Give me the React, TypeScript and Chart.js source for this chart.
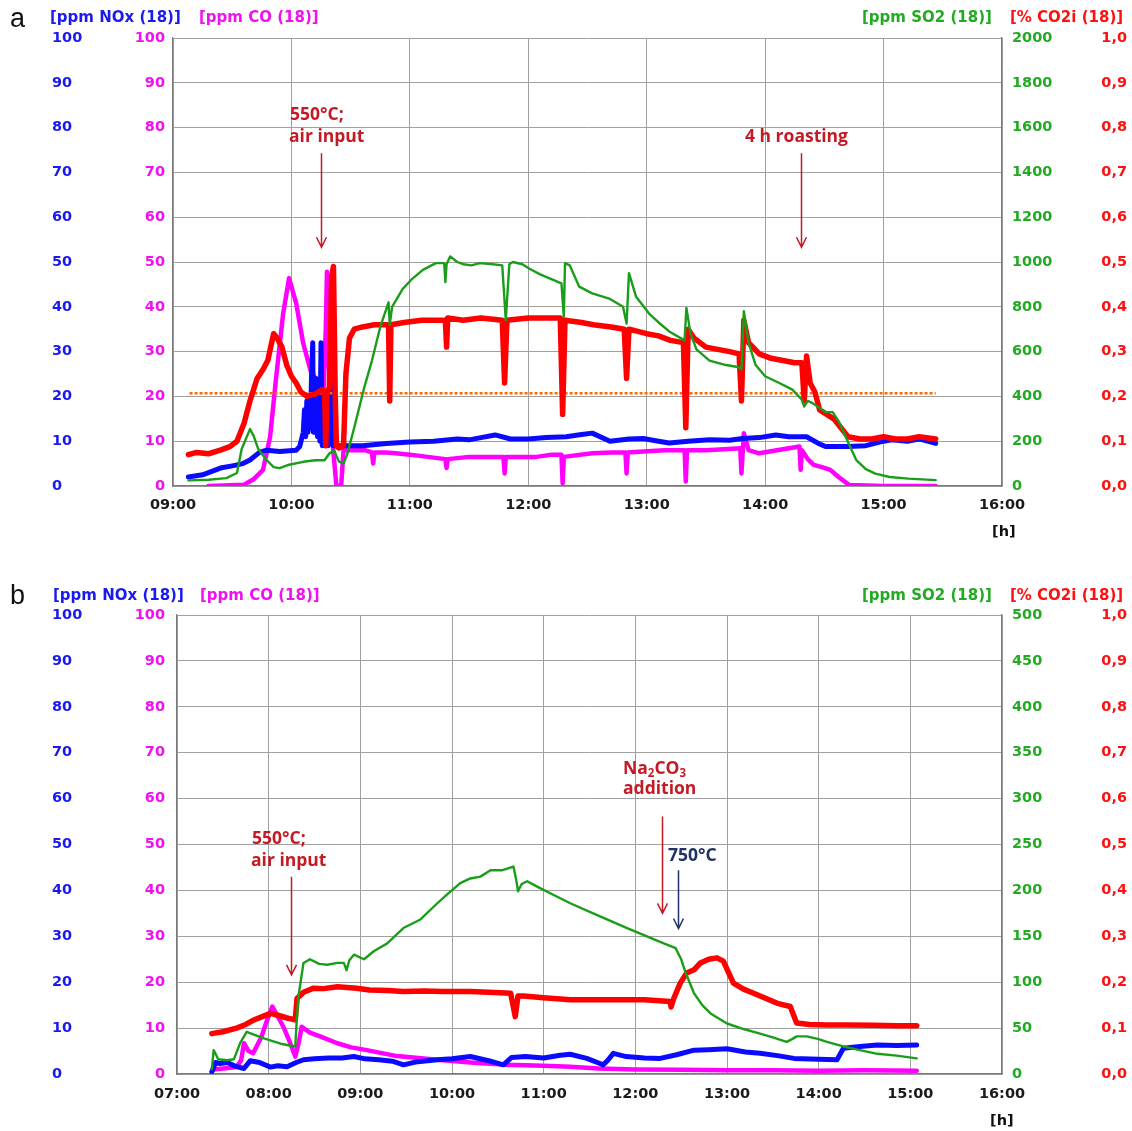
import React, { useEffect, useRef } from 'react';
import { Chart, registerables } from 'chart.js';
Chart.register(...registerables);

type P = [number, number];

// ---------- Panel a (time in decimal hours) ----------
const aNOx: P[] = [
  [9.13, 2], [9.25, 2.5], [9.4, 4], [9.5, 4.5], [9.59, 5], [9.65, 5.8], [9.73, 7.5], [9.79, 8], [9.9, 7.7], [10.04, 8],
  [10.07, 8.8], [10.1, 12], [10.11, 17], [10.12, 11], [10.13, 19], [10.14, 12], [10.15, 20], [10.16, 13], [10.17, 25], [10.18, 32],
  [10.185, 12], [10.19, 22], [10.2, 13], [10.21, 24], [10.22, 11], [10.23, 20], [10.24, 10], [10.25, 32], [10.26, 9],
  [10.27, 15], [10.28, 9], [10.3, 19], [10.31, 9], [10.33, 25], [10.35, 9], [10.45, 9], [10.6, 9], [10.8, 9.5],
  [11.0, 9.8], [11.2, 10], [11.4, 10.5], [11.5, 10.3], [11.6, 10.8], [11.72, 11.4], [11.85, 10.5], [12.0, 10.5],
  [12.15, 10.8], [12.32, 11], [12.45, 11.5], [12.54, 11.8], [12.69, 10], [12.85, 10.5], [12.97, 10.6], [13.1, 10],
  [13.19, 9.6], [13.35, 10], [13.53, 10.3], [13.7, 10.2], [13.81, 10.6], [13.95, 10.8], [14.09, 11.4], [14.2, 11],
  [14.35, 11], [14.45, 9.5], [14.51, 8.8], [14.7, 8.8], [14.85, 9], [15.0, 10], [15.07, 10.3], [15.2, 10],
  [15.3, 10.5], [15.44, 9.5],
];
const aCO: P[] = [
  [9.3, 0], [9.6, 0.3], [9.68, 1.5], [9.76, 3.6], [9.82, 11], [9.87, 24], [9.93, 38.5], [9.98, 46.4], [10.04, 40.8],
  [10.1, 31.8], [10.16, 25.9], [10.21, 23.7], [10.27, 20.7], [10.29, 35], [10.3, 47.8], [10.31, 30], [10.33, 20],
  [10.35, 8.8], [10.38, 0], [10.42, 0], [10.44, 8], [10.5, 8], [10.62, 8], [10.68, 7.5], [10.69, 5], [10.7, 7.5],
  [10.8, 7.5], [10.88, 7.3], [11.0, 7], [11.15, 6.5], [11.3, 6], [11.31, 4], [11.32, 6], [11.5, 6.5], [11.7, 6.5],
  [11.79, 6.5], [11.8, 2.8], [11.81, 6.5], [12.07, 6.5], [12.2, 7], [12.28, 7], [12.29, 0.6], [12.3, 6.5],
  [12.54, 7.3], [12.7, 7.5], [12.82, 7.5], [12.83, 2.8], [12.84, 7.5], [12.97, 7.7], [13.15, 8], [13.32, 8],
  [13.33, 1], [13.34, 8], [13.5, 8], [13.65, 8.2], [13.79, 8.4], [13.8, 2.8], [13.82, 11.8], [13.86, 8],
  [13.95, 7.3], [14.1, 8], [14.29, 8.8], [14.3, 3.6], [14.31, 8], [14.36, 6], [14.41, 4.7], [14.48, 4.2],
  [14.55, 3.6], [14.62, 2], [14.71, 0.2], [15.0, 0], [15.44, 0],
];
const aSO2: P[] = [
  [9.13, 25], [9.3, 28], [9.45, 35], [9.54, 58], [9.58, 165], [9.65, 254], [9.68, 225], [9.72, 165], [9.79, 116],
  [9.85, 84], [9.9, 80], [9.98, 95], [10.1, 108], [10.2, 115], [10.28, 115], [10.32, 145], [10.36, 160],
  [10.4, 110], [10.44, 100], [10.47, 140], [10.53, 260], [10.61, 430], [10.68, 560], [10.75, 710], [10.82, 820],
  [10.83, 720], [10.85, 800], [10.94, 880], [11.02, 925], [11.11, 965], [11.22, 995], [11.29, 995], [11.3, 910],
  [11.31, 990], [11.34, 1025], [11.4, 1000], [11.45, 990], [11.52, 985], [11.59, 995], [11.7, 990], [11.78, 985],
  [11.81, 740], [11.84, 990], [11.87, 1000], [11.95, 990], [12.01, 970], [12.1, 945], [12.21, 920], [12.28, 905],
  [12.3, 755], [12.31, 995], [12.35, 985], [12.43, 890], [12.54, 860], [12.69, 835], [12.8, 800], [12.83, 725],
  [12.85, 950], [12.91, 845], [13.02, 770], [13.1, 730], [13.19, 690], [13.32, 650], [13.335, 795], [13.37, 680],
  [13.42, 610], [13.53, 560], [13.67, 540], [13.78, 530], [13.8, 520], [13.82, 780], [13.86, 640], [13.92, 540],
  [14.0, 490], [14.12, 460], [14.23, 430], [14.31, 385], [14.33, 355], [14.36, 380], [14.4, 370], [14.51, 330],
  [14.57, 330], [14.62, 290], [14.68, 220], [14.77, 115], [14.85, 75], [14.93, 55], [15.05, 40], [15.21, 33],
  [15.44, 26],
];
const aCO2: P[] = [
  [9.13, 0.07], [9.2, 0.075], [9.3, 0.072], [9.4, 0.08], [9.48, 0.088], [9.54, 0.1], [9.6, 0.14], [9.65, 0.19],
  [9.71, 0.24], [9.76, 0.26], [9.8, 0.28], [9.85, 0.34], [9.88, 0.33], [9.92, 0.31], [9.96, 0.27], [10.0, 0.245],
  [10.04, 0.23], [10.08, 0.21], [10.13, 0.2], [10.2, 0.205], [10.26, 0.215], [10.28, 0.21], [10.29, 0.09],
  [10.3, 0.21], [10.32, 0.22], [10.34, 0.47], [10.355, 0.49], [10.37, 0.2], [10.38, 0.09], [10.4, 0.085],
  [10.44, 0.09], [10.46, 0.25], [10.49, 0.33], [10.53, 0.35], [10.6, 0.355], [10.7, 0.36], [10.82, 0.36],
  [10.83, 0.19], [10.84, 0.36], [10.95, 0.365], [11.1, 0.37], [11.2, 0.37], [11.3, 0.37], [11.31, 0.31],
  [11.32, 0.375], [11.45, 0.37], [11.6, 0.375], [11.78, 0.37], [11.8, 0.23], [11.82, 0.37], [12.0, 0.375],
  [12.15, 0.375], [12.27, 0.375], [12.29, 0.16], [12.31, 0.37], [12.45, 0.365], [12.55, 0.36], [12.7, 0.355],
  [12.81, 0.35], [12.83, 0.24], [12.85, 0.35], [13.0, 0.34], [13.1, 0.335], [13.2, 0.325], [13.31, 0.32],
  [13.33, 0.13], [13.35, 0.35], [13.4, 0.33], [13.5, 0.31], [13.6, 0.305], [13.7, 0.3], [13.78, 0.295],
  [13.8, 0.19], [13.82, 0.37], [13.86, 0.32], [13.95, 0.295], [14.05, 0.285], [14.15, 0.28], [14.25, 0.275],
  [14.31, 0.275], [14.33, 0.19], [14.35, 0.29], [14.38, 0.23], [14.42, 0.21], [14.46, 0.17], [14.52, 0.16],
  [14.58, 0.15], [14.64, 0.13], [14.7, 0.11], [14.8, 0.105], [14.9, 0.105], [15.0, 0.11], [15.1, 0.105],
  [15.2, 0.105], [15.3, 0.11], [15.44, 0.105],
];
const aRefCO2: P[] = [[9.14, 0.207], [15.44, 0.207]];

// ---------- Panel b ----------
const bNOx: P[] = [
  [7.38, 0.5], [7.42, 2.5], [7.47, 2.3], [7.55, 2.5], [7.65, 1.6], [7.73, 1.2], [7.8, 2.9], [7.9, 2.5], [8.02, 1.5],
  [8.1, 1.8], [8.2, 1.6], [8.3, 2.5], [8.38, 3.1], [8.5, 3.3], [8.65, 3.5], [8.8, 3.5], [8.93, 3.8], [9.05, 3.3],
  [9.2, 3.1], [9.35, 2.8], [9.47, 2], [9.6, 2.6], [9.84, 3.1], [10.0, 3.3], [10.2, 3.8], [10.4, 2.9], [10.56, 2],
  [10.65, 3.6], [10.8, 3.8], [11.0, 3.5], [11.18, 4.1], [11.29, 4.3], [11.47, 3.4], [11.6, 2.4], [11.65, 2],
  [11.7, 3], [11.76, 4.5], [11.9, 3.8], [12.1, 3.5], [12.27, 3.4], [12.45, 4.2], [12.64, 5.2], [12.8, 5.3],
  [13.0, 5.5], [13.2, 4.8], [13.36, 4.5], [13.55, 4], [13.73, 3.4], [14.0, 3.2], [14.2, 3.1], [14.27, 5.6],
  [14.45, 6], [14.64, 6.3], [14.85, 6.2], [15.07, 6.3],
];
const bCO: P[] = [
  [7.4, 1], [7.5, 1.2], [7.65, 1.5], [7.7, 3], [7.73, 6.7], [7.78, 5], [7.83, 4.5], [7.92, 8], [7.97, 11],
  [8.04, 14.7], [8.16, 10.3], [8.22, 7.5], [8.29, 3.8], [8.33, 7], [8.36, 10.3], [8.45, 9], [8.56, 8.2], [8.75, 6.7],
  [8.9, 5.8], [9.07, 5.2], [9.4, 3.9], [9.84, 3.1], [10.2, 2.5], [10.6, 2], [11.0, 1.8], [11.29, 1.6], [11.6, 1.2],
  [12.0, 1], [12.5, 0.9], [13.0, 0.8], [13.5, 0.8], [14.0, 0.7], [14.5, 0.8], [15.07, 0.7],
];
const bSO2: P[] = [
  [7.38, 5], [7.4, 26], [7.45, 16], [7.55, 15], [7.62, 16], [7.69, 34], [7.76, 46], [7.94, 39], [8.13, 33],
  [8.29, 30], [8.31, 65], [8.33, 88], [8.38, 121], [8.45, 125], [8.55, 120], [8.64, 119], [8.75, 121],
  [8.82, 121], [8.85, 113], [8.88, 124], [8.93, 130], [9.04, 125], [9.15, 134], [9.29, 142], [9.47, 159],
  [9.65, 168], [9.84, 186], [9.95, 196], [10.09, 208], [10.2, 213], [10.31, 215], [10.42, 222], [10.55, 222],
  [10.67, 226], [10.7, 212], [10.72, 199], [10.76, 207], [10.82, 210], [10.95, 203], [11.11, 195], [11.29, 186],
  [11.54, 175], [11.91, 159], [12.1, 151], [12.27, 144], [12.44, 137], [12.5, 125], [12.55, 110], [12.64, 88],
  [12.73, 75], [12.82, 66], [13.0, 55], [13.18, 49], [13.36, 44], [13.5, 40], [13.65, 35], [13.71, 38],
  [13.76, 41], [13.87, 41], [14.0, 38], [14.09, 35], [14.27, 30], [14.45, 26], [14.64, 22], [14.85, 20],
  [15.07, 17],
];
const bCO2: P[] = [
  [7.38, 0.088], [7.5, 0.092], [7.65, 0.1], [7.75, 0.108], [7.83, 0.117], [7.93, 0.125], [8.02, 0.132], [8.1, 0.128],
  [8.2, 0.122], [8.29, 0.118], [8.31, 0.165], [8.35, 0.172], [8.38, 0.178], [8.49, 0.187], [8.6, 0.186],
  [8.75, 0.19], [8.96, 0.187], [9.1, 0.183], [9.3, 0.182], [9.47, 0.18], [9.7, 0.181], [9.9, 0.18], [10.2, 0.18],
  [10.4, 0.178], [10.64, 0.176], [10.69, 0.125], [10.72, 0.17], [10.78, 0.17], [11.0, 0.166], [11.29, 0.162],
  [11.5, 0.162], [11.7, 0.162], [11.91, 0.162], [12.1, 0.162], [12.38, 0.158], [12.39, 0.146], [12.42, 0.165],
  [12.49, 0.198], [12.56, 0.22], [12.64, 0.227], [12.71, 0.242], [12.8, 0.25], [12.89, 0.253], [12.96, 0.246],
  [13.07, 0.198], [13.18, 0.185], [13.29, 0.176], [13.42, 0.165], [13.55, 0.154], [13.69, 0.147], [13.76, 0.111],
  [13.9, 0.108], [14.09, 0.107], [14.3, 0.107], [14.6, 0.106], [14.85, 0.105], [15.07, 0.105],
];

// annotation arrows: [hour, fromValue, toValue] on the 0-100 scale
const aArrowDefs: [number, number, number][] = [[10.25, 74.3, 53.3], [14.3, 74.3, 53.3]];
const bArrowDefs: [number, number, number][] = [[8.244, 43, 21.6], [12.288, 56.1, 35], [12.462, 44.4, 31.7]];

const BLUE = '#0a0aff';
const MAGENTA = '#ff00ff';
const GREEN = '#1a9e1a';
const RED = '#ff0000';
const ORANGE = '#ff6a00';
const GRID = '#a0a0a0';
const BORDER = '#7a7a7a';
const ANN = '#c41a24';
const NAVY = '#1f3366';
const TICK_FONT = { family: 'DejaVu Sans', size: 14.5, weight: 'bold' as const };

const fmtHour = (v: number) => {
  const h = Math.round(v);
  return (h < 10 ? '0' : '') + h + ':00';
};

type PanelCfg = {
  xMin: number;
  xMax: number;
  so2Max: number;
  coWidth: number;
  padTop: number;
  padBottom: number;
  xPad: number;
  nox: P[];
  co: P[];
  so2: P[];
  co2: P[];
  ref?: P[];
  arrows: [number, number, number][];
  arrowColors: string[];
};

function makeChart(canvas: HTMLCanvasElement, c: PanelCfg) {
  const arrowPlugin = {
    id: 'arrows',
    afterDatasetsDraw(chart: any) {
      const xs = chart.scales.x;
      const ys = chart.scales.yCO;
      const ctx = chart.ctx as CanvasRenderingContext2D;
      c.arrows.forEach((a, i) => {
        const px = Math.round(xs.getPixelForValue(a[0])) + 0.5;
        const y1 = ys.getPixelForValue(a[1]);
        const y2 = ys.getPixelForValue(a[2]);
        ctx.save();
        ctx.strokeStyle = c.arrowColors[i];
        ctx.lineWidth = 1.5;
        ctx.beginPath();
        ctx.moveTo(px, y1);
        ctx.lineTo(px, y2);
        ctx.moveTo(px - 5, y2 - 10);
        ctx.lineTo(px, y2);
        ctx.lineTo(px + 5, y2 - 10);
        ctx.stroke();
        ctx.restore();
      });
    },
  };
  const toXY = (arr: P[]) => arr.map(([x, y]) => ({ x, y }));
  const line = (data: P[], color: string, axis: string, width: number, extra: any = {}) => ({
    data: toXY(data),
    borderColor: color,
    backgroundColor: color,
    borderWidth: width,
    yAxisID: axis,
    pointRadius: 0,
    tension: 0,
    borderJoinStyle: 'round',
    borderCapStyle: 'round',
    fill: false,
    ...extra,
  });
  const datasets: any[] = [
    line(c.so2, GREEN, 'ySO2', 2.4),
    line(c.co2, RED, 'yCO2', 5.5),
  ];
  if (c.ref) datasets.push(line(c.ref, ORANGE, 'yCO2', 2.5, { borderDash: [3, 2], borderCapStyle: 'butt' }));
  datasets.push(line(c.nox, BLUE, 'yNOx', 5));
  datasets.push(line(c.co, MAGENTA, 'yCO', 4.5));

  const fitY = (w: number) => (s: any) => {
    s.width = w;
    s.paddingTop = 9;
    s.paddingBottom = 9;
  };

  return new Chart(canvas, {
    type: 'line',
    data: { datasets },
    plugins: [arrowPlugin],
    options: {
      responsive: false,
      animation: false,
      devicePixelRatio: 1,
      events: [],
      layout: { padding: { left: 52, right: 5, top: c.padTop, bottom: c.padBottom } },
      plugins: { legend: { display: false }, tooltip: { enabled: false } },
      scales: {
        x: {
          type: 'linear',
          min: c.xMin,
          max: c.xMax,
          ticks: {
            stepSize: 1,
            autoSkip: false,
            maxRotation: 0,
            padding: c.xPad,
            color: '#1a1a1a',
            font: TICK_FONT,
            callback: (v: any) => fmtHour(Number(v)),
          },
          grid: { color: GRID, lineWidth: 1, drawTicks: false },
          border: { color: BORDER, width: 1.2 },
          afterFit: (s: any) => { s.height = 40; },
        },
        yNOx: {
          type: 'linear',
          position: 'left',
          weight: 1,
          min: 0,
          max: 100,
          ticks: { stepSize: 10, color: '#1a1aee', font: TICK_FONT, padding: 37.7, crossAlign: 'far' },
          grid: { color: GRID, lineWidth: 1, drawTicks: false },
          border: { display: false },
          afterFit: fitY(68),
        },
        yCO: {
          type: 'linear',
          position: 'left',
          weight: 0,
          min: 0,
          max: 100,
          ticks: { stepSize: 10, color: '#f010f0', font: TICK_FONT, padding: c.coWidth - 45, crossAlign: 'near' },
          grid: { display: false, drawTicks: false },
          border: { display: true, color: BORDER, width: 1.2 },
          afterFit: fitY(c.coWidth),
        },
        ySO2: {
          type: 'linear',
          position: 'right',
          weight: 0,
          min: 0,
          max: c.so2Max,
          ticks: {
            stepSize: c.so2Max / 10,
            color: '#22aa22',
            font: TICK_FONT,
            padding: 10,
            crossAlign: 'near',
            callback: (v: any) => String(Math.round(Number(v))),
          },
          grid: { display: false, drawTicks: false },
          border: { display: true, color: BORDER, width: 1.2 },
          afterFit: fitY(60),
        },
        yCO2: {
          type: 'linear',
          position: 'right',
          weight: 1,
          min: 0,
          max: 1,
          ticks: {
            stepSize: 0.1,
            color: '#ff1010',
            font: TICK_FONT,
            padding: 39.3,
            crossAlign: 'far',
            callback: (v: any) => Number(v).toFixed(1).replace('.', ','),
          },
          grid: { display: false, drawTicks: false },
          border: { display: false },
          afterFit: fitY(65),
        },
      } as any,
    } as any,
  });
}

const T = (props: { left: number; top: number; color: string; size?: number; family?: string; weight?: any; children: any }) => (
  <div
    style={{
      position: 'absolute',
      left: props.left,
      top: props.top,
      color: props.color,
      fontFamily: props.family || 'DejaVu Sans',
      fontWeight: props.weight ?? 'bold',
      fontSize: props.size || 15,
      lineHeight: 1,
      whiteSpace: 'nowrap',
    }}
  >
    {props.children}
  </div>
);

const AF = 'Open Sans';
const AS = 17.5;
const subStyle = { fontSize: 11.5, verticalAlign: -3 };

export default function App() {
  const refA = useRef<HTMLCanvasElement>(null);
  const refB = useRef<HTMLCanvasElement>(null);
  useEffect(() => {
    const ca = makeChart(refA.current!, {
      xMin: 9, xMax: 16, so2Max: 2000, coWidth: 53, padTop: 38, padBottom: 34, xPad: 11,
      nox: aNOx, co: aCO, so2: aSO2, co2: aCO2, ref: aRefCO2,
      arrows: aArrowDefs, arrowColors: [ANN, ANN],
    });
    const cb = makeChart(refB.current!, {
      xMin: 7, xMax: 16, so2Max: 500, coWidth: 57, padTop: 55, padBottom: 17, xPad: 12,
      nox: bNOx, co: bCO, so2: bSO2, co2: bCO2,
      arrows: bArrowDefs, arrowColors: [ANN, ANN, NAVY],
    });
    return () => { ca.destroy(); cb.destroy(); };
  }, []);

  return (
    <div style={{ position: 'absolute', left: 0, top: 0, width: 1132, height: 1131, background: '#fff', overflow: 'hidden' }}>
      <canvas ref={refA} width={1132} height={560} style={{ position: 'absolute', left: 0, top: 0 }} />
      <canvas ref={refB} width={1132} height={571} style={{ position: 'absolute', left: 0, top: 560 }} />

      {/* panel a texts */}
      <T left={10} top={5} color="#111" size={27} family="Liberation Sans" weight="normal">a</T>
      <T left={50} top={10} color="#1a1aee">[ppm NOx (18)]</T>
      <T left={199} top={10} color="#f010f0">[ppm CO (18)]</T>
      <T left={862} top={10} color="#22aa22">[ppm SO2 (18)]</T>
      <T left={1010} top={10} color="#ff1010">[% CO2i (18)]</T>
      <T left={290} top={105} color={ANN} size={AS} family={AF} weight={700}>550°C;</T>
      <T left={289} top={127} color={ANN} size={AS} family={AF} weight={700}>air input</T>
      <T left={745} top={127} color={ANN} size={AS} family={AF} weight={700}>4 h roasting</T>
      <T left={992} top={524} color="#111" size={14.5}>[h]</T>

      {/* panel b texts */}
      <T left={10} top={582} color="#111" size={27} family="Liberation Sans" weight="normal">b</T>
      <T left={53} top={588} color="#1a1aee">[ppm NOx (18)]</T>
      <T left={200} top={588} color="#f010f0">[ppm CO (18)]</T>
      <T left={862} top={588} color="#22aa22">[ppm SO2 (18)]</T>
      <T left={1010} top={588} color="#ff1010">[% CO2i (18)]</T>
      <T left={252} top={829} color={ANN} size={AS} family={AF} weight={700}>550°C;</T>
      <T left={251} top={851} color={ANN} size={AS} family={AF} weight={700}>air input</T>
      <T left={623} top={759} color={ANN} size={AS} family={AF} weight={700}>Na<sub style={subStyle}>2</sub>CO<sub style={subStyle}>3</sub></T>
      <T left={623} top={779} color={ANN} size={AS} family={AF} weight={700}>addition</T>
      <T left={668} top={846} color={NAVY} size={AS} family={AF} weight={700}>750°C</T>
      <T left={990} top={1113} color="#111" size={14.5}>[h]</T>
    </div>
  );
}
